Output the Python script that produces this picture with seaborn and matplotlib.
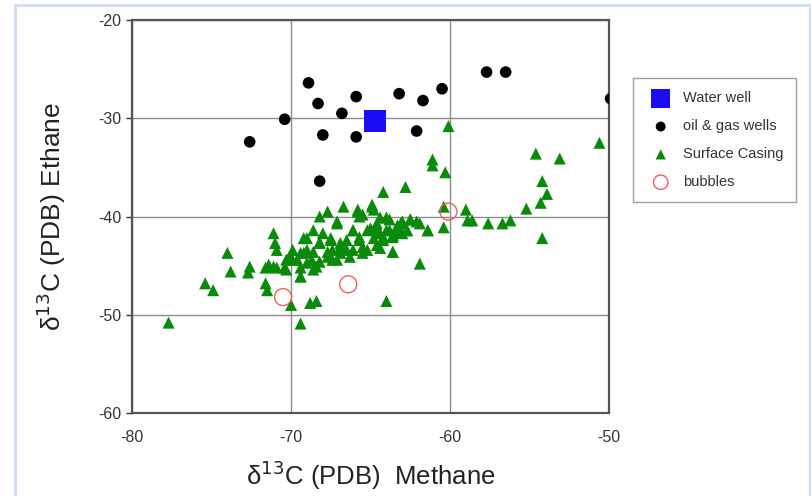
import numpy as np
import pandas as pd
import matplotlib
matplotlib.use("Agg")
import matplotlib.pyplot as plt
from matplotlib.lines import Line2D
import seaborn as sns

# carbon isotope data (methane, ethane)
water_ch4 = [-64.7]
water_c2h6 = [-30.3]

wells_ch4 = [-72.6, -70.4, -68.9, -68.3, -68.0, -68.2, -66.8, -65.9, -65.9,
             -63.2, -61.7, -62.1, -60.5, -57.7, -56.5, -49.9]
wells_c2h6 = [-32.4, -30.1, -26.4, -28.5, -31.7, -36.4, -29.5, -27.8, -31.9,
              -27.5, -28.2, -31.3, -27.0, -25.3, -25.3, -28.0]

casing_ch4 = [-60.1, -50.6, -54.6, -53.1, -61.1, -61.1, -60.3, -54.2, -53.9, -54.3,
              -64.2, -62.8, -55.2, -60.4, -59.0, -58.9, -58.6, -57.6, -56.7, -56.2,
              -54.2, -60.4, -61.4, -61.9, -64.0, -63.6, -77.7, -69.4, -70.0, -68.8,
              -68.4, -75.4, -74.9, -74.0, -73.8, -72.6, -72.7, -71.6, -71.5, -71.1,
              -71.0, -70.9, -71.4, -70.9, -70.4, -70.1, -69.6, -69.4, -69.2, -69.0,
              -68.7, -68.4, -68.2, -67.7, -68.2, -67.5, -67.1, -66.7, -67.4, -66.9,
              -66.5, -65.8, -65.7, -64.9, -64.8, -66.1, -65.7, -65.5, -65.0, -64.6,
              -64.4, -64.0, -63.8, -63.6, -63.3, -63.0, -62.5, -62.1, -62.7, -63.1,
              -64.2, -64.6, -65.5, -66.3, -67.1, -67.7, -68.6, -68.0, -69.2, -69.9,
              -70.3, -71.6,
              -64.9, -67.1, -65.8, -65.5, -64.4, -63.8, -63.1, -62.5, -61.9, -61.4,
              -66.1, -65.2, -64.6, -64.0, -63.3, -62.7, -66.5, -65.7, -64.8, -64.2,
              -63.6, -63.0, -69.0, -68.2, -67.5, -66.9, -69.4, -68.6, -67.7, -66.9,
              -66.1, -65.2, -64.4, -63.6, -69.9, -69.0, -68.2, -67.4, -71.1, -70.3,
              -69.4, -68.6, -69.4]
casing_c2h6 = [-30.8, -32.5, -33.6, -34.1, -34.2, -34.8, -35.5, -36.4, -37.7, -38.6,
               -37.5, -37.0, -39.2, -39.0, -39.3, -40.4, -40.4, -40.7, -40.7, -40.4,
               -42.2, -41.1, -41.4, -44.8, -48.6, -43.6, -50.8, -50.9, -49.0, -48.8,
               -48.6, -46.8, -47.5, -43.7, -45.6, -45.1, -45.7, -46.8, -47.5, -41.7,
               -42.7, -43.4, -44.9, -45.2, -45.2, -44.1, -44.4, -46.1, -42.2, -43.4,
               -44.4, -45.1, -40.0, -39.5, -42.7, -42.4, -40.5, -39.0, -43.4, -43.1,
               -43.4, -39.3, -40.0, -38.8, -39.3, -41.4, -42.1, -43.1, -41.2, -40.7,
               -41.7, -40.1, -41.4, -42.1, -40.9, -40.5, -40.3, -40.5, -41.4, -41.6,
               -42.4, -42.9, -43.7, -44.1, -44.4, -44.1, -41.4, -41.7, -43.7, -43.4,
               -44.4, -45.2,
               -39.0, -40.7, -39.5, -39.8, -40.1, -40.3, -40.7, -40.3, -40.7, -41.4,
               -41.4, -41.4, -41.4, -41.4, -41.4, -41.4, -42.4, -42.4, -42.2, -42.1,
               -41.9, -41.7, -42.2, -42.6, -42.2, -42.7, -43.7, -43.6, -43.6, -43.7,
               -43.4, -43.4, -43.2, -43.6, -44.4, -44.7, -44.6, -44.4, -45.1, -45.4,
               -45.2, -45.4, -46.1]

bubbles_ch4 = [-70.5, -66.4, -60.1]
bubbles_c2h6 = [-48.2, -46.9, -39.5]

sns.set_style("white")
plt.rcParams['font.family'] = ['Liberation Sans', 'DejaVu Sans']
plt.rcParams['axes.unicode_minus'] = False

fig = plt.figure(figsize=(8.12, 4.96), dpi=100)
ax = fig.add_axes([0.1626, 0.1673, 0.5874, 0.7924])

# light blue page frame
for xs, ys in [([0.019, 0.019], [0, 0.99]), ([0.019, 0.998], [0.99, 0.99]),
               ([0.998, 0.998], [0, 0.99])]:
    fig.add_artist(Line2D(xs, ys, color='#cddcf2', lw=2, transform=fig.transFigure))

sns.scatterplot(x=casing_ch4, y=casing_c2h6, marker='^', s=75, color='#0a8a0a',
                edgecolor='none', ax=ax, zorder=3, label='Surface Casing')
sns.scatterplot(x=wells_ch4, y=wells_c2h6, marker='o', s=70, color='black',
                edgecolor='none', ax=ax, zorder=4, label='oil & gas wells')
sns.scatterplot(x=water_ch4, y=water_c2h6, marker='s', s=260, color='#1a0cf5',
                edgecolor='none', ax=ax, zorder=5, label='Water well')
sns.scatterplot(x=bubbles_ch4, y=bubbles_c2h6, marker='o', s=150, facecolor='none',
                edgecolor='#f06060', linewidth=1.0, ax=ax, zorder=6, label='bubbles')

ax.set_xlim(-80, -50)
ax.set_ylim(-60, -20)
ax.set_xticks([-80, -70, -60, -50])
ax.set_yticks([-60, -50, -40, -30, -20])
ax.grid(True, color='#8c8c8c', lw=1.0)
ax.set_axisbelow(True)
for sp in ax.spines.values():
    sp.set_color('#555555')
    sp.set_linewidth(1.6)
ax.tick_params(axis='both', labelsize=11.5, colors='#333333', length=4, width=1,
               direction='out', left=True, bottom=False)
ax.tick_params(axis='x', pad=8)

ax.set_xlabel('δ$^{13}$C (PDB)  Methane', fontsize=18.5, color='#222222', labelpad=10)
ax.set_ylabel('δ$^{13}$C (PDB) Ethane', fontsize=19, color='#222222', labelpad=22)

handles, labels = ax.get_legend_handles_labels()
order = ['Water well', 'oil & gas wells', 'Surface Casing', 'bubbles']
hmap = dict(zip(labels, handles))
leg = ax.legend([hmap[k] for k in order], order, loc='upper left',
                bbox_to_anchor=(1.035, 0.87), fontsize=10.5, frameon=True,
                fancybox=False, edgecolor='#888888', borderpad=0.9,
                labelspacing=0.95, handletextpad=0.5, markerscale=0.85)
leg.get_frame().set_linewidth(1.0)
for t in leg.get_texts():
    t.set_color('#333333')

fig.savefig('out.png', dpi=100)
